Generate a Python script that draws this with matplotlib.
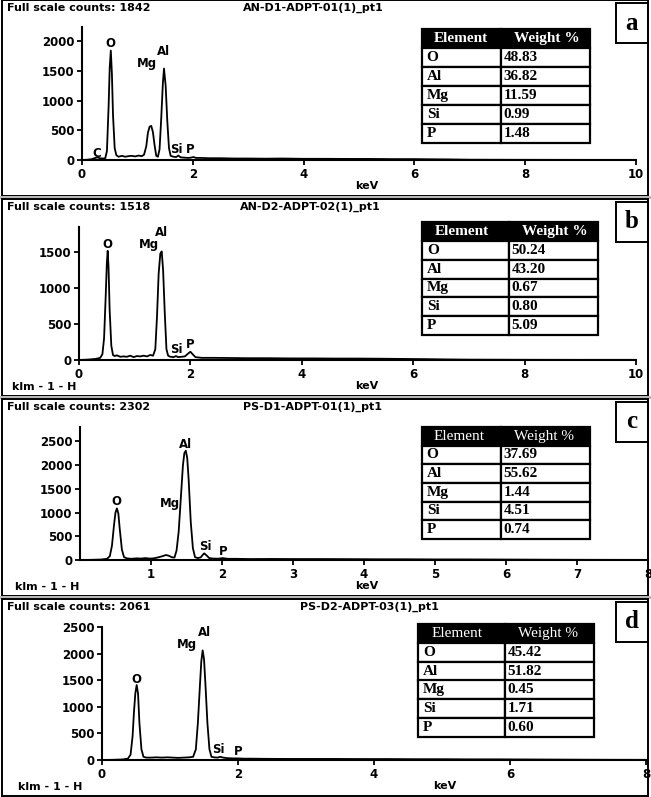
import matplotlib.pyplot as plt
from matplotlib.patches import Rectangle

plt.rcParams['font.family'] = ['DejaVu Sans']
plt.rcParams['font.weight'] = 'bold'

# ---- data (keV, counts) ----
energy_a = [0.00, 0.10, 0.18, 0.24, 0.28, 0.32, 0.38, 0.42, 0.45, 0.48,
            0.50, 0.52, 0.54, 0.56, 0.59, 0.62, 0.66, 0.72, 0.78, 0.84,
            0.90, 0.96, 1.02, 1.08, 1.12, 1.16, 1.19, 1.22, 1.25, 1.28,
            1.31, 1.34, 1.37, 1.40, 1.43, 1.46, 1.48, 1.51, 1.54, 1.57,
            1.60, 1.65, 1.70, 1.74, 1.78, 1.84, 1.92, 1.97, 2.01, 2.06,
            2.15, 2.30, 2.50, 2.75, 3.00, 3.30, 3.60, 4.00, 4.40, 4.80,
            5.20, 5.60, 6.00, 6.30, 6.60, 7.00, 8.00, 9.00, 10.00]
counts_a = [0, 5, 15, 35, 45, 30, 25, 30, 150, 900,
            1550, 1842, 1450, 750, 200, 80, 55, 70, 55, 65,
            70, 60, 75, 65, 90, 230, 460, 560, 575, 470,
            250, 70, 55, 180, 700, 1300, 1540, 1250, 650, 200,
            70, 55, 50, 75, 45, 40, 35, 40, 50, 35,
            35, 30, 30, 25, 25, 22, 25, 20, 20, 18,
            18, 15, 15, 12, 10, 5, 3, 2, 2]

energy_b = [0.00, 0.15, 0.30, 0.38, 0.42, 0.45, 0.48, 0.50, 0.515, 0.53,
            0.55, 0.58, 0.61, 0.64, 0.68, 0.74, 0.80, 0.86, 0.92, 0.98,
            1.04, 1.10, 1.16, 1.22, 1.28, 1.33, 1.37, 1.40, 1.43, 1.46,
            1.485, 1.51, 1.54, 1.57, 1.60, 1.64, 1.70, 1.74, 1.78, 1.84,
            1.90, 1.96, 2.00, 2.04, 2.09, 2.20, 2.40, 2.70, 3.00, 3.40,
            3.80, 4.20, 4.60, 5.00, 5.40, 5.80, 6.20, 6.60, 7.00, 8.00,
            9.00, 10.00]
counts_b = [0, 5, 15, 30, 80, 300, 900, 1350, 1518, 1300,
            700, 200, 70, 55, 65, 45, 50, 45, 60, 40,
            55, 50, 60, 50, 70, 60, 150, 600, 1200, 1480,
            1510, 1250, 650, 150, 60, 45, 40, 55, 40, 45,
            50, 90, 115, 80, 40, 30, 30, 28, 25, 25,
            22, 22, 20, 20, 18, 15, 12, 8, 5, 3,
            2, 2]

energy_c = [0.00, 0.15, 0.30, 0.38, 0.42, 0.45, 0.48, 0.50, 0.52, 0.54,
            0.56, 0.59, 0.62, 0.66, 0.72, 0.80, 0.86, 0.92, 0.98, 1.04,
            1.10, 1.16, 1.21, 1.25, 1.29, 1.33, 1.36, 1.39, 1.42, 1.45,
            1.47, 1.49, 1.51, 1.53, 1.56, 1.59, 1.62, 1.66, 1.70, 1.73,
            1.75, 1.78, 1.82, 1.88, 1.95, 2.01, 2.08, 2.20, 2.40, 2.70,
            3.00, 3.40, 3.80, 4.20, 4.60, 5.00, 5.40, 5.80, 6.20, 7.00,
            8.00]
counts_c = [0, 3, 10, 25, 80, 300, 750, 1000, 1086, 980,
            650, 220, 60, 35, 25, 35, 30, 40, 30, 35,
            55, 80, 105, 90, 60, 50, 200, 600, 1300, 2000,
            2250, 2302, 2150, 1700, 800, 250, 60, 40, 55, 110,
            140, 100, 40, 30, 28, 40, 25, 25, 20, 22,
            20, 20, 18, 15, 15, 12, 12, 10, 8, 4,
            2]

energy_d = [0.00, 0.15, 0.30, 0.38, 0.42, 0.45, 0.47, 0.49, 0.51, 0.53,
            0.55, 0.58, 0.61, 0.65, 0.72, 0.80, 0.88, 0.96, 1.04, 1.12,
            1.20, 1.28, 1.34, 1.38, 1.41, 1.44, 1.46, 1.48, 1.50, 1.52,
            1.55, 1.58, 1.61, 1.65, 1.70, 1.74, 1.78, 1.84, 1.92, 2.00,
            2.08, 2.20, 2.40, 2.70, 3.00, 3.40, 3.80, 4.20, 4.60, 5.00,
            5.40, 5.80, 6.20, 6.60, 7.00, 7.50, 8.00]
counts_d = [0, 3, 10, 25, 100, 450, 900, 1250, 1410, 1250,
            700, 200, 60, 45, 45, 50, 45, 50, 45, 40,
            45, 50, 60, 200, 700, 1400, 1850, 2061, 1900, 1450,
            700, 200, 60, 50, 45, 60, 45, 35, 30, 30,
            25, 25, 22, 20, 20, 20, 18, 18, 15, 15,
            12, 12, 10, 8, 6, 4, 3]

# peak labels: (element, keV, counts)
labels_a = [("C", 0.26, 110), ("O", 0.52, 1970), ("Mg", 1.17, 1630),
            ("Al", 1.48, 1835), ("Si", 1.71, 170), ("P", 1.95, 170)]
labels_b = [("O", 0.515, 1600), ("Mg", 1.257, 1600), ("Al", 1.485, 1775),
            ("Si", 1.74, 140), ("P", 2.0, 220)]
labels_c = [("O", 0.517, 1225), ("Mg", 1.27, 1190), ("Al", 1.49, 2430),
            ("Si", 1.76, 280), ("P", 2.01, 175)]
labels_d = [("O", 0.51, 1517), ("Mg", 1.245, 2175), ("Al", 1.5, 2400),
            ("Si", 1.71, 188), ("P", 2.0, 160)]

elements = ["O", "Al", "Mg", "Si", "P"]
weights_a = ["48.83", "36.82", "11.59", "0.99", "1.48"]
weights_b = ["50.24", "43.20", "0.67", "0.80", "5.09"]
weights_c = ["37.69", "55.62", "1.44", "4.51", "0.74"]
weights_d = ["45.42", "51.82", "0.45", "1.71", "0.60"]

full_scale = [1842, 1518, 2302, 2061]
sample_ids = ["AN-D1-ADPT-01(1)_pt1", "AN-D2-ADPT-02(1)_pt1",
              "PS-D1-ADPT-01(1)_pt1", "PS-D2-ADPT-03(1)_pt1"]
letters = ["a", "b", "c", "d"]

# ---- layout (pixels) ----
W, H = 651, 797


def box(x0, y0, x1, y1):
    return [x0 / W, 1 - y1 / H, (x1 - x0) / W, (y1 - y0) / H]


panels = [
    dict(e=energy_a, c=counts_a, lab=labels_a, w=weights_a, top=0, bot=196,
         ax=(82, 27, 636, 160), xmax=10, ymax=2240, xt=range(0, 11, 2), yt=range(0, 2001, 500),
         tab=(422, 29, 590, 143, 501), head_bold=True, title_x=243, kev_x=367, klm_x=None),
    dict(e=energy_b, c=counts_b, lab=labels_b, w=weights_b, top=199, bot=396,
         ax=(79, 227, 636, 360), xmax=10, ymax=1850, xt=range(0, 11, 2), yt=range(0, 1501, 500),
         tab=(422, 222, 598, 335, 509), head_bold=True, title_x=240, kev_x=367, klm_x=12),
    dict(e=energy_c, c=counts_c, lab=labels_c, w=weights_c, top=399, bot=596,
         ax=(80, 427, 648, 560), xmax=8, ymax=2800, xt=range(1, 9), yt=range(0, 2501, 500),
         tab=(422, 427, 590, 539, 501), head_bold=False, title_x=243, kev_x=367, klm_x=15),
    dict(e=energy_d, c=counts_d, lab=labels_d, w=weights_d, top=599, bot=796,
         ax=(102, 627, 646, 760), xmax=8, ymax=2500, xt=range(0, 9, 2), yt=range(0, 2501, 500),
         tab=(418, 624, 594, 737, 505), head_bold=False, title_x=300, kev_x=445, klm_x=18),
]

fig = plt.figure(figsize=(W / 100, H / 100), dpi=100)
fig.patch.set_facecolor('white')

for i, p in enumerate(panels):
    top, bot = p['top'], p['bot']

    # outer frame of the panel
    fig.add_artist(Rectangle((2 / W, 1 - bot / H), 646 / W, (bot - top) / H,
                             transform=fig.transFigure, fill=False,
                             edgecolor='black', linewidth=1.4))
    if i < 3:
        fig.add_artist(Rectangle((0, 1 - (bot + 3) / H), 1, 3 / H,
                                 transform=fig.transFigure, color='#b8b8b8', linewidth=0))

    # spectrum
    x0, y0, x1, y1 = p['ax']
    ax = fig.add_axes(box(x0, y0, x1, y1))
    ax.patch.set_alpha(0)
    ax.plot(p['e'], p['c'], color='black', linewidth=1.3)
    ax.set_xlim(0, p['xmax'])
    ax.set_ylim(0, p['ymax'])
    ax.set_xticks(list(p['xt']))
    ax.set_yticks(list(p['yt']))
    for s in ['top', 'right']:
        ax.spines[s].set_visible(False)
    for s in ['left', 'bottom']:
        ax.spines[s].set_linewidth(1.5)
    ax.tick_params(direction='out', length=3.5, width=1.3, labelsize=8.5, pad=2)
    for name, xe, yc in p['lab']:
        ax.text(xe, yc, name, ha='center', va='center', fontsize=8.5,
                fontweight='bold', clip_on=False)

    # header texts
    fig.text(7 / W, 1 - (top + 8) / H, "Full scale counts: %d" % full_scale[i],
             ha='left', va='center', fontsize=8, fontweight='bold')
    fig.text(p['title_x'] / W, 1 - (top + 8) / H, sample_ids[i],
             ha='left', va='center', fontsize=8, fontweight='bold')
    fig.text(p['kev_x'] / W, 1 - (bot - 10) / H, "keV",
             ha='center', va='center', fontsize=8, fontweight='bold')
    if p['klm_x'] is not None:
        fig.text(p['klm_x'] / W, 1 - (bot - 9) / H, "klm - 1 - H",
                 ha='left', va='center', fontsize=8, fontweight='bold')

    # letter box
    lax = fig.add_axes(box(616, top + 3, 648, top + 43))
    lax.set_xticks([])
    lax.set_yticks([])
    for s in lax.spines.values():
        s.set_linewidth(1.4)
    lax.text(0.5, 0.5, letters[i], ha='center', va='center', fontsize=18,
             fontweight='bold', family='Liberation Serif', transform=lax.transAxes)

    # weight % table
    tx0, ty0, tx1, ty1, split = p['tab']
    tax = fig.add_axes(box(tx0, ty0, tx1, ty1))
    tax.axis('off')
    rows = [[el, wt] for el, wt in zip(elements, p['w'])]
    c0 = (split - tx0) / (tx1 - tx0)
    tbl = tax.table(cellText=rows, colLabels=["Element", "Weight %"],
                    colWidths=[c0, 1 - c0], cellLoc='left', colLoc='left',
                    bbox=[0, 0, 1, 1])
    tbl.auto_set_font_size(False)
    for (r, c), cell in tbl.get_celld().items():
        cell.set_linewidth(1.6)
        cell.set_edgecolor('black')
        txt = cell.get_text()
        txt.set_family('Liberation Serif')
        txt.set_fontsize(11)
        if r == 0:
            cell.set_facecolor('black')
            txt.set_color('white')
            txt.set_fontweight('bold' if p['head_bold'] else 'normal')
            cell.PAD = 0.15
        else:
            txt.set_fontweight('bold')
            cell.PAD = 0.06 if c == 0 else 0.03

plt.savefig("out.png", dpi=100)
plt.close()
